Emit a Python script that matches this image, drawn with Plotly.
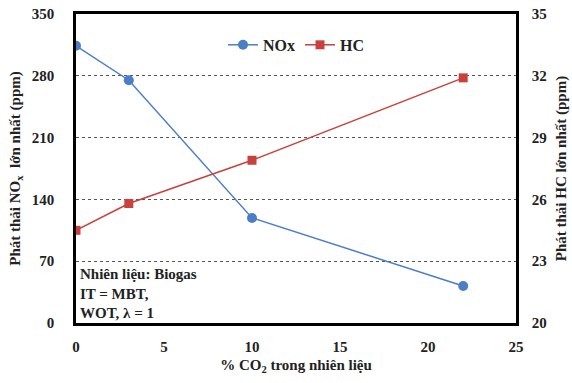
import plotly.graph_objects as go

co2 = [0, 3, 10, 22]
nox = [314, 275, 119, 42]
hc = [24.5, 25.8, 27.9, 31.9]
left_ticks = [0, 70, 140, 210, 280, 350]
right_ticks = [20, 23, 26, 29, 32, 35]
x_ticks = [0, 5, 10, 15, 20, 25]

FONT = "Liberation Serif"
blue = "#4a7fc8"
red = "#c8413d"

fig = go.Figure()
fig.add_trace(go.Scatter(x=co2, y=nox, name="<b>NOx</b>", mode="lines+markers",
                         line=dict(color=blue, width=1.5),
                         marker=dict(symbol="circle", size=10, color=blue)))
fig.add_trace(go.Scatter(x=co2, y=hc, name="<b>HC</b>", mode="lines+markers", yaxis="y2",
                         line=dict(color=red, width=1.5),
                         marker=dict(symbol="square", size=9, color=red)))

fig.update_layout(
    width=572, height=383,
    margin=dict(l=76, r=56, t=14, b=60),
    paper_bgcolor="white", plot_bgcolor="white",
    font=dict(family=FONT, size=15, color="#222"),
    showlegend=True,
    legend=dict(orientation="h", x=0.5, y=0.9, xanchor="center", yanchor="middle",
                bgcolor="rgba(0,0,0,0)", font=dict(size=16, family=FONT, color="#222"),
                itemwidth=30),
    xaxis=dict(range=[0, 25], tickvals=x_ticks, ticktext=[f"<b>{v}</b>" for v in x_ticks],
               showgrid=False, zeroline=False, showline=True, linecolor="black", linewidth=2.5,
               mirror=True, ticks="", ticklabelstandoff=8, automargin=False,
               title=dict(text="<b>% CO<sub>2</sub> trong nhiên liệu</b>", font=dict(size=15), standoff=6)),
    yaxis=dict(range=[0, 350], tickvals=left_ticks, ticktext=[f"<b>{v}</b>" for v in left_ticks],
               showgrid=True, gridcolor="#555555", griddash="3px,3px", gridwidth=1,
               zeroline=False, showline=True, linecolor="black", linewidth=2.5, ticks="",
               ticklabelstandoff=16, automargin=False,
               title=dict(text="<b>Phát thải NO<sub>x</sub>  lớn nhất (ppm)</b>", font=dict(size=15), standoff=8)),
    yaxis2=dict(range=[20, 35], tickvals=right_ticks, ticktext=[f"<b>{v}</b>" for v in right_ticks],
                overlaying="y", side="right", showgrid=False, zeroline=False,
                showline=True, linecolor="black", linewidth=2.5, ticks="",
                ticklabelstandoff=10, automargin=False,
                title=dict(text="<b>Phát thải HC lớn nhất (ppm)</b>", font=dict(size=15), standoff=10)),
)

fig.add_annotation(xref="paper", yref="paper", x=0.005, y=0.0, xanchor="left", yanchor="bottom",
                   align="left", showarrow=False,
                   text="<b>Nhiên liệu: Biogas<br>IT = MBT,<br>WOT, λ = 1</b>",
                   font=dict(size=15, family=FONT, color="#222"))

fig.write_html("out.html")
